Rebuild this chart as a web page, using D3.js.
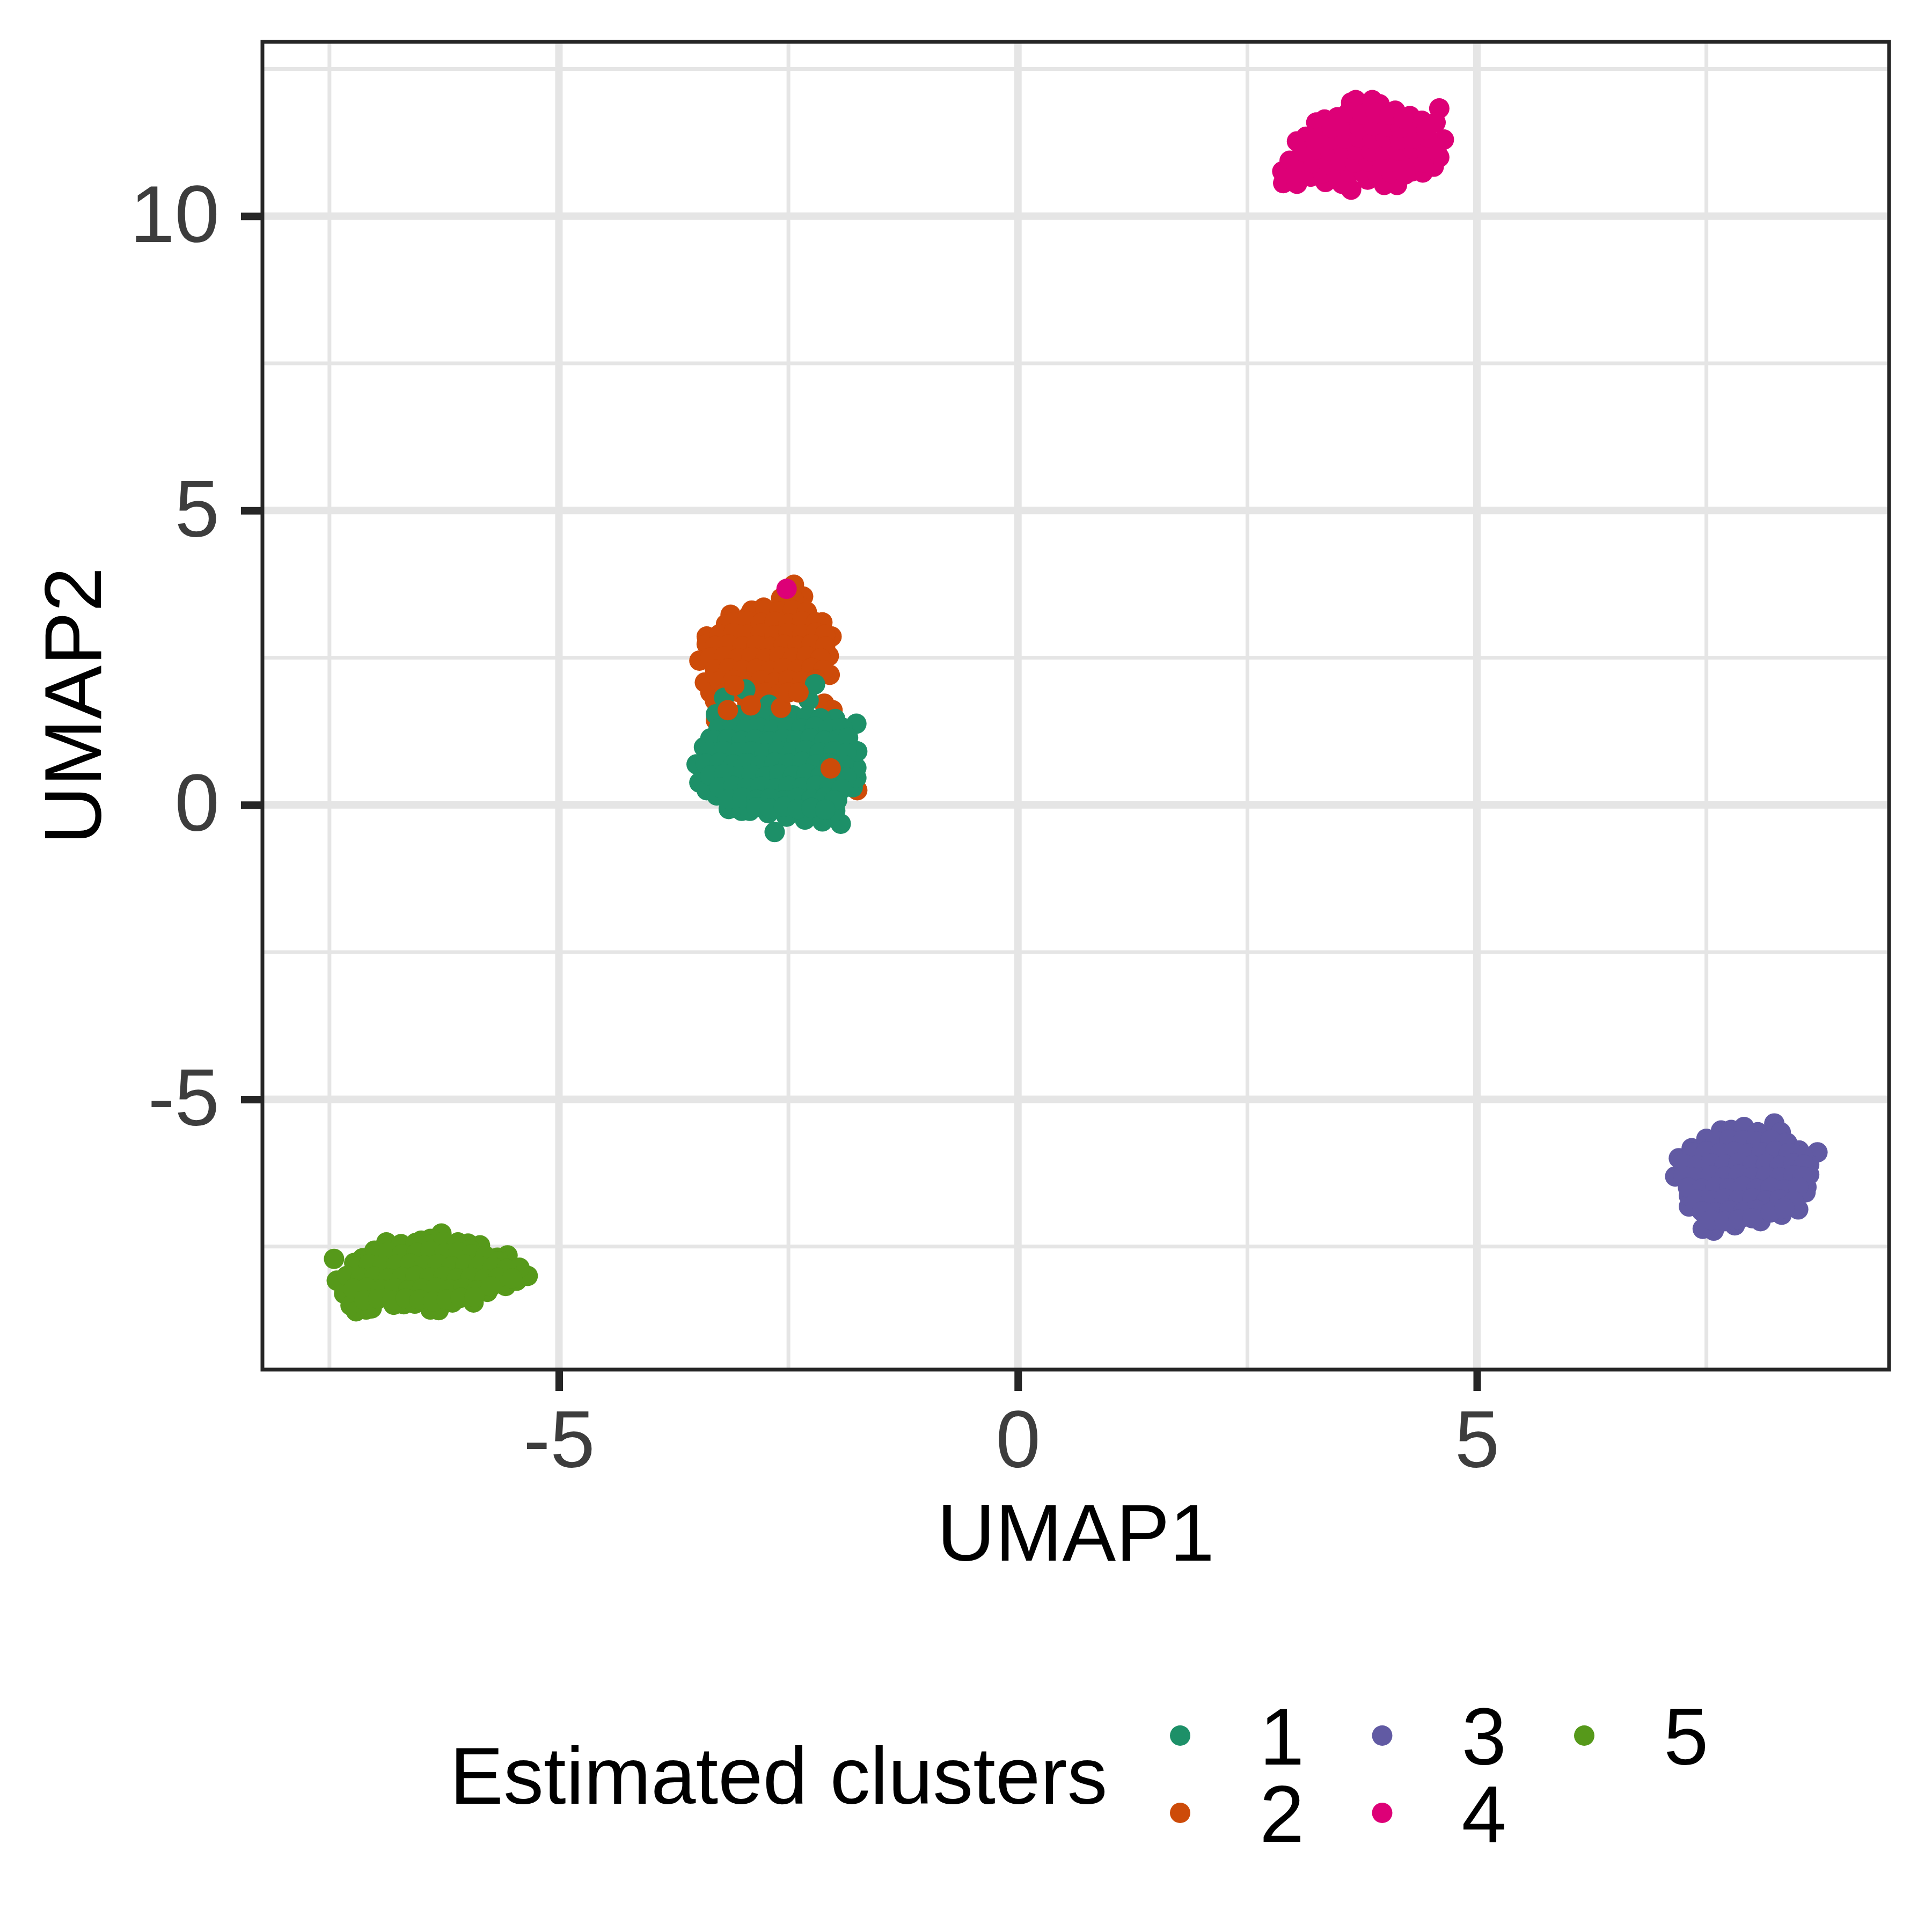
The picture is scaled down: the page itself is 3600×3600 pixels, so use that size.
<!DOCTYPE html>
<html>
<head>
<meta charset="utf-8">
<script src="https://cdn.jsdelivr.net/npm/d3@7"></script>
<style>
    body { margin: 0; background: #ffffff; }
    text { font-family: "Liberation Sans", Arial, sans-serif; }
</style>
</head>
<body>
<div id="chart-area"></div>
<script>
/* * * * * * * * * * * * * *
*       UMAP scatter        *
* * * * * * * * * * * * * */

// legend / colours
const clusterLabels = ["1", "2", "3", "4", "5"];
const clusterColors = ["#1d9068", "#cd4b09", "#615aa3", "#dd0077", "#56991a"];

// axis ticks
const xTicks = [-5, 0, 5];
const yTicks = [-5, 0, 5, 10];
const xMinor = [-7.5, -2.5, 2.5, 7.5];
const yMinor = [-7.5, -2.5, 2.5, 7.5, 12.5];

// points [UMAP1, UMAP2]
const cluster1 = [
    [-2.97, 1.96], [-3.20, 1.82], [-3.29, 1.54], [-3.35, 1.13], [-3.42, 0.98], [-3.50, 0.69], [-3.47, 0.38],
    [-3.39, 0.25], [-3.28, 0.16], [-3.15, -0.07], [-3.01, -0.10], [-2.92, -0.10], [-2.72, -0.14], [-2.65, -0.46],
    [-2.52, -0.20], [-2.32, -0.25], [-2.13, -0.28], [-1.93, -0.32], [-1.99, -0.10], [-1.97, 0.08], [-1.80, 0.30],
    [-1.76, 0.46], [-1.76, 0.63], [-1.75, 0.91], [-1.76, 1.38], [-1.99, 1.46], [-2.28, 1.78], [-2.21, 2.05],
    [-2.71, 1.70],
    [-3.21, 1.50], [-3.05, 1.52], [-2.90, 1.49], [-2.75, 1.51], [-2.60, 1.48], [-2.45, 1.52], [-2.30, 1.50], [-2.15, 1.47],
    [-3.26, 1.30], [-3.11, 1.32], [-2.96, 1.29], [-2.81, 1.31], [-2.66, 1.28], [-2.51, 1.32], [-2.36, 1.30], [-2.21, 1.33],
    [-2.06, 1.29], [-1.91, 1.31],
    [-3.31, 1.10], [-3.16, 1.12], [-3.01, 1.09], [-2.86, 1.11], [-2.71, 1.08], [-2.56, 1.12], [-2.41, 1.10], [-2.26, 1.13],
    [-2.11, 1.09], [-1.96, 1.11], [-1.85, 1.14],
    [-3.36, 0.90], [-3.21, 0.92], [-3.06, 0.89], [-2.91, 0.91], [-2.76, 0.88], [-2.61, 0.92], [-2.46, 0.90], [-2.31, 0.93],
    [-2.16, 0.89], [-2.01, 0.91], [-1.87, 0.88],
    [-3.40, 0.70], [-3.25, 0.72], [-3.10, 0.69], [-2.95, 0.71], [-2.80, 0.68], [-2.65, 0.72], [-2.50, 0.70], [-2.35, 0.73],
    [-2.20, 0.69], [-2.05, 0.71], [-1.90, 0.68],
    [-3.35, 0.50], [-3.20, 0.52], [-3.05, 0.49], [-2.90, 0.51], [-2.75, 0.48], [-2.60, 0.52], [-2.45, 0.50], [-2.30, 0.53],
    [-2.15, 0.49], [-2.00, 0.51], [-1.87, 0.47],
    [-3.25, 0.30], [-3.10, 0.32], [-2.95, 0.29], [-2.80, 0.31], [-2.65, 0.28], [-2.50, 0.32], [-2.35, 0.30], [-2.20, 0.33],
    [-2.05, 0.29], [-1.92, 0.27],
    [-3.15, 0.10], [-3.00, 0.12], [-2.85, 0.09], [-2.70, 0.11], [-2.55, 0.08], [-2.40, 0.12], [-2.25, 0.10], [-2.10, 0.13],
    [-2.00, 0.08],
    [-2.85, -0.04], [-2.70, -0.06], [-2.55, -0.03], [-2.40, -0.07], [-2.25, -0.05], [-2.10, -0.08]
];

const cluster2 = [
    [-2.44, 3.74], [-2.34, 3.54], [-2.34, 3.34], [-2.58, 3.51], [-2.77, 3.35], [-2.93, 3.22], [-3.13, 3.23],
    [-3.18, 3.07], [-3.39, 2.86], [-3.39, 2.73], [-3.47, 2.45], [-3.41, 2.08], [-3.35, 1.91], [-3.30, 1.77],
    [-3.29, 1.44], [-2.13, 3.10], [-2.03, 2.86], [-2.06, 2.53], [-2.05, 2.21], [-2.24, 2.21], [-2.11, 1.72],
    [-2.02, 1.61], [-1.75, 0.25], [-2.80, 0.65],
    [-2.55, 3.52], [-2.44, 3.48],
    [-2.90, 3.30], [-2.75, 3.32], [-2.60, 3.29], [-2.45, 3.31], [-2.30, 3.28],
    [-3.10, 3.10], [-2.95, 3.12], [-2.80, 3.09], [-2.65, 3.11], [-2.50, 3.08], [-2.35, 3.12], [-2.20, 3.10],
    [-3.25, 2.90], [-3.10, 2.92], [-2.95, 2.89], [-2.80, 2.91], [-2.65, 2.88], [-2.50, 2.92], [-2.35, 2.90], [-2.20, 2.93],
    [-2.10, 2.89],
    [-3.30, 2.70], [-3.15, 2.72], [-3.00, 2.69], [-2.85, 2.71], [-2.70, 2.68], [-2.55, 2.72], [-2.40, 2.70], [-2.25, 2.73],
    [-2.10, 2.69],
    [-3.35, 2.50], [-3.20, 2.52], [-3.05, 2.49], [-2.90, 2.51], [-2.75, 2.48], [-2.60, 2.52], [-2.45, 2.50], [-2.30, 2.53],
    [-2.15, 2.49],
    [-3.30, 2.30], [-3.15, 2.32], [-3.00, 2.29], [-2.85, 2.31], [-2.70, 2.28], [-2.55, 2.32], [-2.40, 2.30], [-2.25, 2.33],
    [-2.12, 2.29],
    [-3.25, 2.10], [-3.10, 2.12], [-2.95, 2.09], [-2.80, 2.11], [-2.65, 2.08], [-2.50, 2.12], [-2.35, 2.10], [-2.20, 2.13],
    [-3.20, 1.90], [-3.05, 1.92], [-2.90, 1.89], [-2.75, 1.91], [-2.60, 1.88],
    [-2.95, 1.75], [-2.80, 1.77], [-2.70, 1.74]
];

// cluster 2 rows that were plotted after cluster 1
const cluster2Front = [
    [-2.04, 0.62], [-3.09, 2.03], [-3.16, 1.61], [-2.91, 1.69], [-2.58, 1.65], [-2.50, 1.91], [-2.39, 1.91]
];

const cluster3 = [
    [7.16, -6.31], [7.20, -6.00], [7.34, -5.83], [7.50, -5.67], [7.66, -5.53], [7.77, -5.52], [7.91, -5.47],
    [8.06, -5.56], [8.24, -5.41], [8.31, -5.56], [8.38, -5.74], [8.51, -5.87], [8.71, -5.90], [8.62, -6.11],
    [8.62, -6.28], [8.59, -6.49], [8.58, -6.58], [8.50, -6.87], [8.32, -6.96], [8.09, -7.07], [7.81, -7.14],
    [7.58, -7.23], [7.46, -7.20], [7.31, -6.82], [7.31, -6.64],
    [7.60, -5.71], [7.75, -5.68], [7.90, -5.70], [8.05, -5.72], [8.20, -5.69], [8.35, -5.75],
    [7.35, -5.90], [7.50, -5.88], [7.65, -5.91], [7.80, -5.89], [7.95, -5.92], [8.10, -5.90], [8.25, -5.88], [8.40, -5.91],
    [8.55, -5.95],
    [7.25, -6.10], [7.40, -6.12], [7.55, -6.09], [7.70, -6.11], [7.85, -6.08], [8.00, -6.12], [8.15, -6.10], [8.30, -6.13],
    [8.45, -6.09], [8.56, -6.11],
    [7.25, -6.30], [7.40, -6.32], [7.55, -6.29], [7.70, -6.31], [7.85, -6.28], [8.00, -6.32], [8.15, -6.30], [8.30, -6.33],
    [8.45, -6.29], [8.55, -6.31],
    [7.30, -6.50], [7.45, -6.52], [7.60, -6.49], [7.75, -6.51], [7.90, -6.48], [8.05, -6.52], [8.20, -6.50], [8.35, -6.53],
    [8.50, -6.49],
    [7.40, -6.70], [7.55, -6.72], [7.70, -6.69], [7.85, -6.71], [8.00, -6.68], [8.15, -6.72], [8.30, -6.70], [8.45, -6.73],
    [7.45, -6.90], [7.60, -6.92], [7.75, -6.89], [7.90, -6.91], [8.05, -6.88], [8.20, -6.92], [8.35, -6.85],
    [7.55, -7.05], [7.70, -7.07], [7.85, -7.04], [8.00, -7.02]
];

const cluster4 = [
    [2.89, 10.56], [3.04, 10.55], [2.88, 10.76], [2.96, 10.94], [3.04, 11.27], [3.14, 11.35], [3.25, 11.59],
    [3.34, 11.64], [3.48, 11.68], [3.63, 11.93], [3.68, 11.97], [3.86, 11.97], [3.94, 11.90], [4.11, 11.79],
    [4.27, 11.70], [4.40, 11.62], [4.59, 11.83], [4.55, 11.59], [4.64, 11.30], [4.59, 11.00], [4.53, 10.84],
    [4.41, 10.74], [4.29, 10.76], [4.13, 10.53], [3.99, 10.53], [3.81, 10.62], [3.63, 10.45], [3.53, 10.55],
    [3.35, 10.58], [3.19, 10.67],
    [3.02, 10.72], [3.17, 10.70], [3.32, 10.73], [3.47, 10.71], [3.62, 10.74], [3.77, 10.72], [3.92, 10.70], [4.07, 10.73],
    [4.22, 10.71],
    [3.07, 10.93], [3.22, 10.90], [3.37, 10.92], [3.52, 10.94], [3.67, 10.91], [3.82, 10.93], [3.97, 10.90], [4.12, 10.92],
    [4.27, 10.94], [4.42, 10.91],
    [3.10, 11.10], [3.25, 11.13], [3.40, 11.11], [3.55, 11.14], [3.70, 11.12], [3.85, 11.10], [4.00, 11.13], [4.15, 11.11],
    [4.30, 11.14], [4.45, 11.12], [4.56, 11.15],
    [3.26, 11.33], [3.41, 11.30], [3.56, 11.32], [3.71, 11.34], [3.86, 11.31], [4.01, 11.33], [4.16, 11.30], [4.31, 11.32],
    [4.46, 11.34],
    [3.42, 11.50], [3.57, 11.53], [3.72, 11.51], [3.87, 11.54], [4.02, 11.52], [4.17, 11.50], [4.32, 11.53], [4.45, 11.47],
    [3.60, 11.76], [3.75, 11.73], [3.90, 11.75], [4.05, 11.72], [4.20, 11.66]
];

// the single cluster 4 point sitting on top of cluster 2
const cluster4Stray = [[-2.52, 3.67]];

const cluster5 = [
    [-7.45, -7.71], [-7.42, -8.08], [-7.34, -8.30], [-7.27, -8.50], [-7.21, -8.60], [-7.10, -8.57], [-7.04, -8.55],
    [-6.80, -8.49], [-6.69, -8.48], [-6.57, -8.47], [-6.40, -8.57], [-6.31, -8.58], [-6.16, -8.45], [-5.93, -8.45],
    [-5.78, -8.27], [-5.58, -8.17], [-5.46, -8.08], [-5.34, -8.00], [-5.43, -7.86], [-5.56, -7.65], [-5.67, -7.69],
    [-5.86, -7.48], [-5.99, -7.45], [-6.10, -7.43], [-6.28, -7.28], [-6.40, -7.37], [-6.50, -7.40], [-6.61, -7.52],
    [-6.78, -7.51], [-6.88, -7.43], [-7.01, -7.57], [-7.14, -7.70], [-7.23, -7.78],
    [-6.72, -7.46], [-6.56, -7.44], [-6.41, -7.47], [-6.26, -7.42], [-6.12, -7.50], [-5.97, -7.55],
    [-7.00, -7.64], [-6.86, -7.60], [-6.71, -7.63], [-6.55, -7.61], [-6.40, -7.58], [-6.25, -7.62], [-6.10, -7.60],
    [-5.95, -7.63], [-5.80, -7.66], [-5.66, -7.75],
    [-7.22, -7.84], [-7.07, -7.80], [-6.92, -7.83], [-6.77, -7.81], [-6.62, -7.79], [-6.47, -7.82], [-6.32, -7.80],
    [-6.17, -7.84], [-6.02, -7.81], [-5.87, -7.83], [-5.72, -7.85], [-5.57, -7.88],
    [-7.31, -8.00], [-7.16, -8.03], [-7.01, -8.01], [-6.86, -8.04], [-6.71, -8.02], [-6.56, -8.00], [-6.41, -8.03],
    [-6.26, -8.01], [-6.11, -8.04], [-5.96, -8.02], [-5.81, -8.05], [-5.66, -8.03], [-5.51, -8.04],
    [-7.24, -8.22], [-7.09, -8.20], [-6.94, -8.23], [-6.79, -8.21], [-6.64, -8.24], [-6.49, -8.22], [-6.34, -8.20],
    [-6.19, -8.23], [-6.04, -8.21], [-5.89, -8.24], [-5.74, -8.18],
    [-7.12, -8.41], [-6.97, -8.39], [-6.82, -8.42], [-6.67, -8.38], [-6.52, -8.40], [-6.37, -8.43], [-6.22, -8.40],
    [-6.07, -8.37], [-5.92, -8.36]
];


class UmapScatter {

    constructor(parentElement) {
        this.parentElement = parentElement;

        // call initVis method
        this.initVis();
    }

    initVis() {
        let vis = this;

        vis.width = 3600;
        vis.height = 3600;
        vis.panel = {left: 489, right: 3520, top: 78, bottom: 2552};

        vis.svg = d3.select("#" + vis.parentElement).append("svg")
            .attr("width", vis.width)
            .attr("height", vis.height)
            .style("display", "block");

        vis.svg.append("rect")
            .attr("width", vis.width)
            .attr("height", vis.height)
            .attr("fill", "#ffffff");

        // scales (ggplot-style 5% padding already folded into the domains)
        vis.x = d3.scaleLinear()
            .domain([-8.23, 9.49])
            .range([vis.panel.left, vis.panel.right]);

        vis.y = d3.scaleLinear()
            .domain([-9.59, 12.96])
            .range([vis.panel.bottom, vis.panel.top]);

        vis.svg.append("clipPath")
            .attr("id", "panel-clip")
            .append("rect")
            .attr("x", vis.panel.left)
            .attr("y", vis.panel.top)
            .attr("width", vis.panel.right - vis.panel.left)
            .attr("height", vis.panel.bottom - vis.panel.top);

        // grid lines
        vis.grid = vis.svg.append("g")
            .attr("class", "grid")
            .attr("clip-path", "url(#panel-clip)");

        vis.grid.selectAll(".x-minor").data(xMinor).enter().append("line")
            .attr("x1", d => vis.x(d)).attr("x2", d => vis.x(d))
            .attr("y1", vis.panel.top).attr("y2", vis.panel.bottom)
            .attr("stroke", "#e5e5e5").attr("stroke-width", 7);
        vis.grid.selectAll(".y-minor").data(yMinor).enter().append("line")
            .attr("x1", vis.panel.left).attr("x2", vis.panel.right)
            .attr("y1", d => vis.y(d)).attr("y2", d => vis.y(d))
            .attr("stroke", "#e5e5e5").attr("stroke-width", 7);
        vis.grid.selectAll(".x-major").data(xTicks).enter().append("line")
            .attr("x1", d => vis.x(d)).attr("x2", d => vis.x(d))
            .attr("y1", vis.panel.top).attr("y2", vis.panel.bottom)
            .attr("stroke", "#e5e5e5").attr("stroke-width", 14);
        vis.grid.selectAll(".y-major").data(yTicks).enter().append("line")
            .attr("x1", vis.panel.left).attr("x2", vis.panel.right)
            .attr("y1", d => vis.y(d)).attr("y2", d => vis.y(d))
            .attr("stroke", "#e5e5e5").attr("stroke-width", 14);

        vis.pointGroup = vis.svg.append("g")
            .attr("class", "points")
            .attr("clip-path", "url(#panel-clip)");

        // axes
        vis.xAxis = d3.axisBottom(vis.x)
            .tickValues(xTicks)
            .tickSize(40)
            .tickPadding(35)
            .tickFormat(d => String(d));

        vis.yAxis = d3.axisLeft(vis.y)
            .tickValues(yTicks)
            .tickSize(40)
            .tickPadding(40)
            .tickFormat(d => String(d));

        vis.svg.append("g")
            .attr("class", "x-axis")
            .attr("transform", "translate(0," + vis.panel.bottom + ")")
            .call(vis.xAxis);

        vis.svg.append("g")
            .attr("class", "y-axis")
            .attr("transform", "translate(" + vis.panel.left + ",0)")
            .call(vis.yAxis);

        vis.svg.selectAll(".x-axis, .y-axis").select(".domain").remove();
        vis.svg.selectAll(".x-axis line, .y-axis line")
            .attr("stroke", "#262626")
            .attr("stroke-width", 14);
        vis.svg.selectAll(".x-axis text, .y-axis text")
            .attr("fill", "#3d3d3d")
            .style("font-size", "150px")
            .style("font-family", "'Liberation Sans', Arial, sans-serif");

        // axis titles
        vis.svg.append("text")
            .attr("x", (vis.panel.left + vis.panel.right) / 2)
            .attr("y", 2908)
            .attr("text-anchor", "middle")
            .style("font-size", "150px")
            .attr("fill", "#000000")
            .text("UMAP1");

        vis.svg.append("text")
            .attr("transform", "translate(188," + (vis.panel.top + vis.panel.bottom) / 2 + ") rotate(-90)")
            .attr("text-anchor", "middle")
            .style("font-size", "150px")
            .attr("fill", "#000000")
            .text("UMAP2");

        // legend
        vis.legend = vis.svg.append("g").attr("class", "legend");

        vis.legend.append("text")
            .attr("x", 838)
            .attr("y", 3361)
            .style("font-size", "150px")
            .attr("fill", "#000000")
            .text("Estimated clusters");

        let legendNodes = clusterLabels.map((label, i) => ({label: label, color: clusterColors[i], col: Math.floor(i / 2), row: i % 2}));

        let keys = vis.legend.selectAll(".legend-key")
            .data(legendNodes)
            .enter()
            .append("g")
            .attr("class", "legend-key")
            .attr("transform", d => "translate(" + [2199 + d.col * 376.5, 3234 + d.row * 144] + ")");

        keys.append("circle")
            .attr("r", 19)
            .attr("fill", d => d.color);

        keys.append("text")
            .attr("x", 148)
            .attr("dy", "0.36em")
            .style("font-size", "150px")
            .attr("fill", "#000000")
            .text(d => d.label);

        // call next method in pipeline
        this.wrangleData();
    }

    wrangleData() {
        let vis = this;

        // draw order of the rows
        let layers = [
            {pts: cluster5, c: 4},
            {pts: cluster4, c: 3},
            {pts: cluster3, c: 2},
            {pts: cluster2, c: 1},
            {pts: cluster1, c: 0},
            {pts: cluster2Front, c: 1},
            {pts: cluster4Stray, c: 3}
        ];

        vis.displayData = [];
        layers.forEach(function (layer) {
            layer.pts.forEach(function (p) {
                vis.displayData.push({umap1: p[0], umap2: p[1], color: clusterColors[layer.c]});
            });
        });

        vis.updateVis();
    }

    updateVis() {
        let vis = this;

        vis.pointGroup.selectAll(".dot")
            .data(vis.displayData)
            .enter()
            .append("circle")
            .attr("class", "dot")
            .attr("cx", d => vis.x(d.umap1))
            .attr("cy", d => vis.y(d.umap2))
            .attr("r", 19)
            .attr("fill", d => d.color);

        // panel border on top
        vis.svg.append("rect")
            .attr("x", vis.panel.left)
            .attr("y", vis.panel.top)
            .attr("width", vis.panel.right - vis.panel.left)
            .attr("height", vis.panel.bottom - vis.panel.top)
            .attr("fill", "none")
            .attr("stroke", "#262626")
            .attr("stroke-width", 7);
    }
}

new UmapScatter("chart-area");
</script>
</body>
</html>
